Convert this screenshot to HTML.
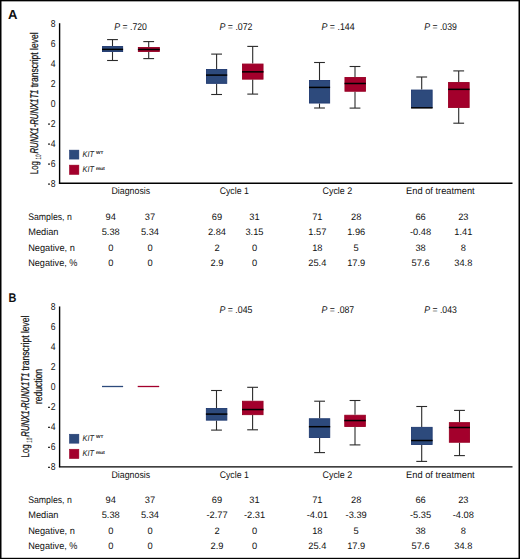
<!DOCTYPE html>
<html><head><meta charset="utf-8"><style>
html,body{margin:0;padding:0;background:#fff;}
svg{display:block;}
text{text-rendering:geometricPrecision;font-family:"Liberation Sans", sans-serif;fill:#111;}
.yl{stroke:#111;stroke-width:0.2px;}
.yi{stroke-width:0.3px;}
</style></head><body>
<svg width="520" height="559" viewBox="0 0 520 559">
<rect x="0" y="0" width="520" height="559" fill="#fff"/>
<text x="7.9" y="18.75" font-size="13.1" text-anchor="start" font-weight="bold" >A</text>
<line x1="59.6" y1="23.2" x2="59.6" y2="183.9" stroke="#000" stroke-width="1.4"/>
<line x1="58.9" y1="183.3" x2="512.5" y2="183.3" stroke="#000" stroke-width="1.4"/>
<text x="53.15" y="26.75" font-size="10" text-rendering="geometricPrecision" text-anchor="middle" transform="translate(53.15,0) scale(0.86,1) translate(-53.15,0)">8</text>
<text x="53.15" y="46.75" font-size="10" text-rendering="geometricPrecision" text-anchor="middle" transform="translate(53.15,0) scale(0.86,1) translate(-53.15,0)">6</text>
<text x="53.15" y="66.75" font-size="10" text-rendering="geometricPrecision" text-anchor="middle" transform="translate(53.15,0) scale(0.86,1) translate(-53.15,0)">4</text>
<text x="53.15" y="86.75" font-size="10" text-rendering="geometricPrecision" text-anchor="middle" transform="translate(53.15,0) scale(0.86,1) translate(-53.15,0)">2</text>
<text x="53.15" y="106.75" font-size="10" text-rendering="geometricPrecision" text-anchor="middle" transform="translate(53.15,0) scale(0.86,1) translate(-53.15,0)">0</text>
<text x="53.15" y="126.75" font-size="10" text-rendering="geometricPrecision" text-anchor="middle" transform="translate(53.15,0) scale(0.86,1) translate(-53.15,0)">2</text>
<rect x="48.0" y="123.45" width="2.0" height="1.3" fill="#333"/>
<text x="53.15" y="146.75" font-size="10" text-rendering="geometricPrecision" text-anchor="middle" transform="translate(53.15,0) scale(0.86,1) translate(-53.15,0)">4</text>
<rect x="48.0" y="143.45" width="2.0" height="1.3" fill="#333"/>
<text x="53.15" y="166.75" font-size="10" text-rendering="geometricPrecision" text-anchor="middle" transform="translate(53.15,0) scale(0.86,1) translate(-53.15,0)">6</text>
<rect x="48.0" y="163.45" width="2.0" height="1.3" fill="#333"/>
<text x="53.15" y="186.75" font-size="10" text-rendering="geometricPrecision" text-anchor="middle" transform="translate(53.15,0) scale(0.86,1) translate(-53.15,0)">8</text>
<rect x="48.0" y="183.45" width="2.0" height="1.3" fill="#333"/>
<text x="114.3" y="29.9" font-size="9.8" textLength="32.60000000000001" lengthAdjust="spacingAndGlyphs"><tspan font-style="italic">P</tspan> = .720</text>
<text x="219.5" y="29.9" font-size="9.8" textLength="33.0" lengthAdjust="spacingAndGlyphs"><tspan font-style="italic">P</tspan> = .072</text>
<text x="321.5" y="29.9" font-size="9.8" textLength="33.10000000000002" lengthAdjust="spacingAndGlyphs"><tspan font-style="italic">P</tspan> = .144</text>
<text x="424.2" y="29.9" font-size="9.8" textLength="32.60000000000002" lengthAdjust="spacingAndGlyphs"><tspan font-style="italic">P</tspan> = .039</text>
<line x1="112.5" y1="39.6" x2="112.5" y2="46.1" stroke="#2a2a2a" stroke-width="1.1"/>
<line x1="107.1" y1="39.6" x2="117.9" y2="39.6" stroke="#2a2a2a" stroke-width="1.1"/>
<line x1="112.5" y1="52.0" x2="112.5" y2="60.5" stroke="#2a2a2a" stroke-width="1.1"/>
<line x1="107.1" y1="60.5" x2="117.9" y2="60.5" stroke="#2a2a2a" stroke-width="1.1"/>
<rect x="102.45" y="46.55" width="20.20" height="5.00" fill="#2d4a7c" stroke="#1f3970" stroke-width="0.9"/>
<line x1="102.0" y1="49.4" x2="123.1" y2="49.4" stroke="#000" stroke-width="1.5"/>
<line x1="148.7" y1="41.6" x2="148.7" y2="47.0" stroke="#2a2a2a" stroke-width="1.1"/>
<line x1="143.29999999999998" y1="41.6" x2="154.1" y2="41.6" stroke="#2a2a2a" stroke-width="1.1"/>
<line x1="148.7" y1="51.9" x2="148.7" y2="58.6" stroke="#2a2a2a" stroke-width="1.1"/>
<line x1="143.29999999999998" y1="58.6" x2="154.1" y2="58.6" stroke="#2a2a2a" stroke-width="1.1"/>
<rect x="138.35" y="47.45" width="21.00" height="4.00" fill="#a3002c" stroke="#980024" stroke-width="0.9"/>
<line x1="137.9" y1="49.5" x2="159.8" y2="49.5" stroke="#000" stroke-width="1.5"/>
<line x1="216.6" y1="54.1" x2="216.6" y2="69.0" stroke="#2a2a2a" stroke-width="1.1"/>
<line x1="211.2" y1="54.1" x2="222.0" y2="54.1" stroke="#2a2a2a" stroke-width="1.1"/>
<line x1="216.6" y1="83.8" x2="216.6" y2="94.5" stroke="#2a2a2a" stroke-width="1.1"/>
<line x1="211.2" y1="94.5" x2="222.0" y2="94.5" stroke="#2a2a2a" stroke-width="1.1"/>
<rect x="206.45" y="69.45" width="20.30" height="13.90" fill="#2d4a7c" stroke="#1f3970" stroke-width="0.9"/>
<line x1="206.0" y1="75.1" x2="227.2" y2="75.1" stroke="#000" stroke-width="1.5"/>
<line x1="252.7" y1="46.4" x2="252.7" y2="63.6" stroke="#2a2a2a" stroke-width="1.1"/>
<line x1="247.29999999999998" y1="46.4" x2="258.09999999999997" y2="46.4" stroke="#2a2a2a" stroke-width="1.1"/>
<line x1="252.7" y1="79.6" x2="252.7" y2="94.1" stroke="#2a2a2a" stroke-width="1.1"/>
<line x1="247.29999999999998" y1="94.1" x2="258.09999999999997" y2="94.1" stroke="#2a2a2a" stroke-width="1.1"/>
<rect x="242.45" y="64.05" width="20.60" height="15.10" fill="#a3002c" stroke="#980024" stroke-width="0.9"/>
<line x1="242.0" y1="71.85" x2="263.5" y2="71.85" stroke="#000" stroke-width="1.5"/>
<line x1="319.5" y1="62.5" x2="319.5" y2="80.0" stroke="#2a2a2a" stroke-width="1.1"/>
<line x1="314.1" y1="62.5" x2="324.9" y2="62.5" stroke="#2a2a2a" stroke-width="1.1"/>
<line x1="319.5" y1="103.5" x2="319.5" y2="108.0" stroke="#2a2a2a" stroke-width="1.1"/>
<line x1="314.1" y1="108.0" x2="324.9" y2="108.0" stroke="#2a2a2a" stroke-width="1.1"/>
<rect x="309.45" y="80.45" width="20.20" height="22.60" fill="#2d4a7c" stroke="#1f3970" stroke-width="0.9"/>
<line x1="309.0" y1="87.4" x2="330.1" y2="87.4" stroke="#000" stroke-width="1.5"/>
<line x1="355.0" y1="66.5" x2="355.0" y2="77.0" stroke="#2a2a2a" stroke-width="1.1"/>
<line x1="349.6" y1="66.5" x2="360.4" y2="66.5" stroke="#2a2a2a" stroke-width="1.1"/>
<line x1="355.0" y1="91.7" x2="355.0" y2="108.1" stroke="#2a2a2a" stroke-width="1.1"/>
<line x1="349.6" y1="108.1" x2="360.4" y2="108.1" stroke="#2a2a2a" stroke-width="1.1"/>
<rect x="344.95" y="77.45" width="20.50" height="13.80" fill="#a3002c" stroke="#980024" stroke-width="0.9"/>
<line x1="344.5" y1="83.5" x2="365.9" y2="83.5" stroke="#000" stroke-width="1.5"/>
<line x1="421.7" y1="77.0" x2="421.7" y2="89.6" stroke="#2a2a2a" stroke-width="1.1"/>
<line x1="416.3" y1="77.0" x2="427.09999999999997" y2="77.0" stroke="#2a2a2a" stroke-width="1.1"/>
<rect x="411.55" y="90.05" width="20.60" height="17.50" fill="#2d4a7c" stroke="#1f3970" stroke-width="0.9"/>
<line x1="411.1" y1="107.85" x2="432.6" y2="107.85" stroke="#000" stroke-width="1.5"/>
<line x1="458.7" y1="70.9" x2="458.7" y2="82.1" stroke="#2a2a2a" stroke-width="1.1"/>
<line x1="453.3" y1="70.9" x2="464.09999999999997" y2="70.9" stroke="#2a2a2a" stroke-width="1.1"/>
<line x1="458.7" y1="107.9" x2="458.7" y2="123.2" stroke="#2a2a2a" stroke-width="1.1"/>
<line x1="453.3" y1="123.2" x2="464.09999999999997" y2="123.2" stroke="#2a2a2a" stroke-width="1.1"/>
<rect x="448.55" y="82.55" width="20.60" height="24.90" fill="#a3002c" stroke="#980024" stroke-width="0.9"/>
<line x1="448.1" y1="89.35" x2="469.6" y2="89.35" stroke="#000" stroke-width="1.5"/>
<rect x="69.4" y="150.1" width="9.5" height="9" fill="#2d4a7c" stroke="#1f3970" stroke-width="0.5"/>
<rect x="69.4" y="165.1" width="9.5" height="9.4" fill="#a3002c" stroke="#980024" stroke-width="0.5"/>
<text x="82.6" y="157.3" font-size="8.4" font-style="italic" textLength="11.4" lengthAdjust="spacingAndGlyphs">KIT</text>
<text x="96.1" y="154.3" font-size="4.4" textLength="7.2" lengthAdjust="spacingAndGlyphs" stroke="#111" stroke-width="0.15">WT</text>
<text x="82.6" y="172.3" font-size="8.4" font-style="italic" textLength="11.4" lengthAdjust="spacingAndGlyphs">KIT</text>
<text x="96.1" y="169.7" font-size="4.4" textLength="8.5" lengthAdjust="spacingAndGlyphs" stroke="#111" stroke-width="0.15">mut</text>
<text x="111.5" y="194.2" font-size="9.6" text-anchor="start" font-weight="normal" textLength="38.7" lengthAdjust="spacingAndGlyphs" >Diagnosis</text>
<text x="219.7" y="194.2" font-size="9.6" text-anchor="start" font-weight="normal" textLength="29.1" lengthAdjust="spacingAndGlyphs" >Cycle 1</text>
<text x="322.5" y="194.2" font-size="9.6" text-anchor="start" font-weight="normal" textLength="29.7" lengthAdjust="spacingAndGlyphs" >Cycle 2</text>
<text x="406.1" y="194.2" font-size="9.6" text-anchor="start" font-weight="normal" textLength="68.6" lengthAdjust="spacingAndGlyphs" >End of treatment</text>
<text x="28.2" y="219.9" font-size="9.6" text-anchor="start" font-weight="normal" textLength="43.6" lengthAdjust="spacingAndGlyphs" >Samples, n</text>
<text x="28.2" y="235.2" font-size="9.6" text-anchor="start" font-weight="normal" textLength="30.3" lengthAdjust="spacingAndGlyphs" >Median</text>
<text x="28.2" y="250.5" font-size="9.6" text-anchor="start" font-weight="normal" textLength="46.7" lengthAdjust="spacingAndGlyphs" >Negative, n</text>
<text x="28.2" y="265.8" font-size="9.6" text-anchor="start" font-weight="normal" textLength="49.300000000000004" lengthAdjust="spacingAndGlyphs" >Negative, %</text>
<text x="110.75" y="219.9" font-size="9.3" text-anchor="middle" font-weight="normal" >94</text>
<text x="150.0" y="219.9" font-size="9.3" text-anchor="middle" font-weight="normal" >37</text>
<text x="217.0" y="219.9" font-size="9.3" text-anchor="middle" font-weight="normal" >69</text>
<text x="254.5" y="219.9" font-size="9.3" text-anchor="middle" font-weight="normal" >31</text>
<text x="317.3" y="219.9" font-size="9.3" text-anchor="middle" font-weight="normal" >71</text>
<text x="356.2" y="219.9" font-size="9.3" text-anchor="middle" font-weight="normal" >28</text>
<text x="420.6" y="219.9" font-size="9.3" text-anchor="middle" font-weight="normal" >66</text>
<text x="463.3" y="219.9" font-size="9.3" text-anchor="middle" font-weight="normal" >23</text>
<text x="110.75" y="235.2" font-size="9.3" text-anchor="middle" font-weight="normal" >5.38</text>
<text x="150.0" y="235.2" font-size="9.3" text-anchor="middle" font-weight="normal" >5.34</text>
<text x="217.0" y="235.2" font-size="9.3" text-anchor="middle" font-weight="normal" >2.84</text>
<text x="254.5" y="235.2" font-size="9.3" text-anchor="middle" font-weight="normal" >3.15</text>
<text x="317.3" y="235.2" font-size="9.3" text-anchor="middle" font-weight="normal" >1.57</text>
<text x="356.2" y="235.2" font-size="9.3" text-anchor="middle" font-weight="normal" >1.96</text>
<text x="420.6" y="235.2" font-size="9.3" text-anchor="middle" font-weight="normal" >-0.48</text>
<text x="463.3" y="235.2" font-size="9.3" text-anchor="middle" font-weight="normal" >1.41</text>
<text x="110.75" y="250.5" font-size="9.3" text-anchor="middle" font-weight="normal" >0</text>
<text x="150.0" y="250.5" font-size="9.3" text-anchor="middle" font-weight="normal" >0</text>
<text x="217.0" y="250.5" font-size="9.3" text-anchor="middle" font-weight="normal" >2</text>
<text x="254.5" y="250.5" font-size="9.3" text-anchor="middle" font-weight="normal" >0</text>
<text x="317.3" y="250.5" font-size="9.3" text-anchor="middle" font-weight="normal" >18</text>
<text x="356.2" y="250.5" font-size="9.3" text-anchor="middle" font-weight="normal" >5</text>
<text x="420.6" y="250.5" font-size="9.3" text-anchor="middle" font-weight="normal" >38</text>
<text x="463.3" y="250.5" font-size="9.3" text-anchor="middle" font-weight="normal" >8</text>
<text x="110.75" y="265.8" font-size="9.3" text-anchor="middle" font-weight="normal" >0</text>
<text x="150.0" y="265.8" font-size="9.3" text-anchor="middle" font-weight="normal" >0</text>
<text x="217.0" y="265.8" font-size="9.3" text-anchor="middle" font-weight="normal" >2.9</text>
<text x="254.5" y="265.8" font-size="9.3" text-anchor="middle" font-weight="normal" >0</text>
<text x="317.3" y="265.8" font-size="9.3" text-anchor="middle" font-weight="normal" >25.4</text>
<text x="356.2" y="265.8" font-size="9.3" text-anchor="middle" font-weight="normal" >17.9</text>
<text x="420.6" y="265.8" font-size="9.3" text-anchor="middle" font-weight="normal" >57.6</text>
<text x="463.3" y="265.8" font-size="9.3" text-anchor="middle" font-weight="normal" >34.8</text>
<text class="yl" transform="translate(37.9,0) rotate(-90)" x="-174.20" y="0" font-size="11.2" textLength="13.0" lengthAdjust="spacingAndGlyphs">Log</text>
<text class="ys" transform="translate(37.9,0) rotate(-90)" x="-159.60" y="3.0" font-size="7.8" textLength="5.2" lengthAdjust="spacingAndGlyphs">10</text>
<text class="yl yi" transform="translate(37.9,0) rotate(-90)" x="-153.50" y="0" font-size="11.2" font-style="italic" textLength="63.9" lengthAdjust="spacingAndGlyphs">RUNX1-RUNX1T1</text>
<text class="yl" transform="translate(37.9,0) rotate(-90)" x="-87.30" y="0" font-size="11.2" textLength="54.9" lengthAdjust="spacingAndGlyphs">transcript level</text>
<text x="8.4" y="301.65" font-size="12.6" text-anchor="start" font-weight="bold" textLength="7.9" lengthAdjust="spacingAndGlyphs" >B</text>
<line x1="59.6" y1="306.45" x2="59.6" y2="467.15" stroke="#000" stroke-width="1.4"/>
<line x1="58.9" y1="466.85" x2="512.5" y2="466.85" stroke="#000" stroke-width="1.4"/>
<text x="53.15" y="310.00" font-size="10" text-rendering="geometricPrecision" text-anchor="middle" transform="translate(53.15,0) scale(0.86,1) translate(-53.15,0)">8</text>
<text x="53.15" y="330.00" font-size="10" text-rendering="geometricPrecision" text-anchor="middle" transform="translate(53.15,0) scale(0.86,1) translate(-53.15,0)">6</text>
<text x="53.15" y="350.00" font-size="10" text-rendering="geometricPrecision" text-anchor="middle" transform="translate(53.15,0) scale(0.86,1) translate(-53.15,0)">4</text>
<text x="53.15" y="370.00" font-size="10" text-rendering="geometricPrecision" text-anchor="middle" transform="translate(53.15,0) scale(0.86,1) translate(-53.15,0)">2</text>
<text x="53.15" y="390.00" font-size="10" text-rendering="geometricPrecision" text-anchor="middle" transform="translate(53.15,0) scale(0.86,1) translate(-53.15,0)">0</text>
<text x="53.15" y="410.00" font-size="10" text-rendering="geometricPrecision" text-anchor="middle" transform="translate(53.15,0) scale(0.86,1) translate(-53.15,0)">2</text>
<rect x="48.0" y="406.70" width="2.0" height="1.3" fill="#333"/>
<text x="53.15" y="430.00" font-size="10" text-rendering="geometricPrecision" text-anchor="middle" transform="translate(53.15,0) scale(0.86,1) translate(-53.15,0)">4</text>
<rect x="48.0" y="426.70" width="2.0" height="1.3" fill="#333"/>
<text x="53.15" y="450.00" font-size="10" text-rendering="geometricPrecision" text-anchor="middle" transform="translate(53.15,0) scale(0.86,1) translate(-53.15,0)">6</text>
<rect x="48.0" y="446.70" width="2.0" height="1.3" fill="#333"/>
<text x="53.15" y="470.00" font-size="10" text-rendering="geometricPrecision" text-anchor="middle" transform="translate(53.15,0) scale(0.86,1) translate(-53.15,0)">8</text>
<rect x="48.0" y="466.70" width="2.0" height="1.3" fill="#333"/>
<text x="219.5" y="313.15" font-size="9.8" textLength="32.900000000000006" lengthAdjust="spacingAndGlyphs"><tspan font-style="italic">P</tspan> = .045</text>
<text x="321.5" y="313.15" font-size="9.8" textLength="32.69999999999999" lengthAdjust="spacingAndGlyphs"><tspan font-style="italic">P</tspan> = .087</text>
<text x="424.2" y="313.15" font-size="9.8" textLength="32.60000000000002" lengthAdjust="spacingAndGlyphs"><tspan font-style="italic">P</tspan> = .043</text>
<line x1="216.5" y1="390.5" x2="216.5" y2="408.1" stroke="#2a2a2a" stroke-width="1.1"/>
<line x1="211.1" y1="390.5" x2="221.9" y2="390.5" stroke="#2a2a2a" stroke-width="1.1"/>
<line x1="216.5" y1="420.6" x2="216.5" y2="430.1" stroke="#2a2a2a" stroke-width="1.1"/>
<line x1="211.1" y1="430.1" x2="221.9" y2="430.1" stroke="#2a2a2a" stroke-width="1.1"/>
<rect x="206.35" y="408.55" width="20.50" height="11.60" fill="#2d4a7c" stroke="#1f3970" stroke-width="0.9"/>
<line x1="205.9" y1="414.1" x2="227.3" y2="414.1" stroke="#000" stroke-width="1.5"/>
<line x1="252.6" y1="387.3" x2="252.6" y2="400.8" stroke="#2a2a2a" stroke-width="1.1"/>
<line x1="247.2" y1="387.3" x2="258.0" y2="387.3" stroke="#2a2a2a" stroke-width="1.1"/>
<line x1="252.6" y1="415.1" x2="252.6" y2="429.8" stroke="#2a2a2a" stroke-width="1.1"/>
<line x1="247.2" y1="429.8" x2="258.0" y2="429.8" stroke="#2a2a2a" stroke-width="1.1"/>
<rect x="242.45" y="401.25" width="20.60" height="13.40" fill="#a3002c" stroke="#980024" stroke-width="0.9"/>
<line x1="242.0" y1="409.55" x2="263.5" y2="409.55" stroke="#000" stroke-width="1.5"/>
<line x1="319.6" y1="401.2" x2="319.6" y2="418.3" stroke="#2a2a2a" stroke-width="1.1"/>
<line x1="314.20000000000005" y1="401.2" x2="325.0" y2="401.2" stroke="#2a2a2a" stroke-width="1.1"/>
<line x1="319.6" y1="437.9" x2="319.6" y2="452.6" stroke="#2a2a2a" stroke-width="1.1"/>
<line x1="314.20000000000005" y1="452.6" x2="325.0" y2="452.6" stroke="#2a2a2a" stroke-width="1.1"/>
<rect x="309.35" y="418.75" width="20.40" height="18.70" fill="#2d4a7c" stroke="#1f3970" stroke-width="0.9"/>
<line x1="308.9" y1="426.7" x2="330.2" y2="426.7" stroke="#000" stroke-width="1.5"/>
<line x1="355.0" y1="400.5" x2="355.0" y2="414.8" stroke="#2a2a2a" stroke-width="1.1"/>
<line x1="349.6" y1="400.5" x2="360.4" y2="400.5" stroke="#2a2a2a" stroke-width="1.1"/>
<line x1="355.0" y1="426.9" x2="355.0" y2="444.9" stroke="#2a2a2a" stroke-width="1.1"/>
<line x1="349.6" y1="444.9" x2="360.4" y2="444.9" stroke="#2a2a2a" stroke-width="1.1"/>
<rect x="344.75" y="415.25" width="20.60" height="11.20" fill="#a3002c" stroke="#980024" stroke-width="0.9"/>
<line x1="344.3" y1="420.55" x2="365.8" y2="420.55" stroke="#000" stroke-width="1.5"/>
<line x1="421.7" y1="406.5" x2="421.7" y2="426.9" stroke="#2a2a2a" stroke-width="1.1"/>
<line x1="416.3" y1="406.5" x2="427.09999999999997" y2="406.5" stroke="#2a2a2a" stroke-width="1.1"/>
<line x1="421.7" y1="444.9" x2="421.7" y2="461.4" stroke="#2a2a2a" stroke-width="1.1"/>
<line x1="416.3" y1="461.4" x2="427.09999999999997" y2="461.4" stroke="#2a2a2a" stroke-width="1.1"/>
<rect x="411.55" y="427.35" width="20.60" height="17.10" fill="#2d4a7c" stroke="#1f3970" stroke-width="0.9"/>
<line x1="411.1" y1="440.5" x2="432.6" y2="440.5" stroke="#000" stroke-width="1.5"/>
<line x1="459.5" y1="410.4" x2="459.5" y2="422.2" stroke="#2a2a2a" stroke-width="1.1"/>
<line x1="454.1" y1="410.4" x2="464.9" y2="410.4" stroke="#2a2a2a" stroke-width="1.1"/>
<line x1="459.5" y1="442.7" x2="459.5" y2="455.6" stroke="#2a2a2a" stroke-width="1.1"/>
<line x1="454.1" y1="455.6" x2="464.9" y2="455.6" stroke="#2a2a2a" stroke-width="1.1"/>
<rect x="449.35" y="422.65" width="20.20" height="19.60" fill="#a3002c" stroke="#980024" stroke-width="0.9"/>
<line x1="448.9" y1="427.5" x2="470.0" y2="427.5" stroke="#000" stroke-width="1.5"/>
<line x1="102" y1="386.5" x2="123.1" y2="386.5" stroke="#2d4a7c" stroke-width="1.3"/>
<line x1="137.7" y1="386.5" x2="159.2" y2="386.5" stroke="#a3002c" stroke-width="1.3"/>
<rect x="69.4" y="434.20000000000005" width="9.5" height="9" fill="#2d4a7c" stroke="#1f3970" stroke-width="0.5"/>
<rect x="69.4" y="449.20000000000005" width="9.5" height="9.4" fill="#a3002c" stroke="#980024" stroke-width="0.5"/>
<text x="82.6" y="441.40000000000003" font-size="8.4" font-style="italic" textLength="11.4" lengthAdjust="spacingAndGlyphs">KIT</text>
<text x="96.1" y="438.40000000000003" font-size="4.4" textLength="7.2" lengthAdjust="spacingAndGlyphs" stroke="#111" stroke-width="0.15">WT</text>
<text x="82.6" y="456.40000000000003" font-size="8.4" font-style="italic" textLength="11.4" lengthAdjust="spacingAndGlyphs">KIT</text>
<text x="96.1" y="453.8" font-size="4.4" textLength="8.5" lengthAdjust="spacingAndGlyphs" stroke="#111" stroke-width="0.15">mut</text>
<text x="111.5" y="478.25" font-size="9.6" text-anchor="start" font-weight="normal" textLength="38.7" lengthAdjust="spacingAndGlyphs" >Diagnosis</text>
<text x="219.7" y="478.25" font-size="9.6" text-anchor="start" font-weight="normal" textLength="29.1" lengthAdjust="spacingAndGlyphs" >Cycle 1</text>
<text x="322.5" y="478.25" font-size="9.6" text-anchor="start" font-weight="normal" textLength="29.7" lengthAdjust="spacingAndGlyphs" >Cycle 2</text>
<text x="406.1" y="478.25" font-size="9.6" text-anchor="start" font-weight="normal" textLength="68.6" lengthAdjust="spacingAndGlyphs" >End of treatment</text>
<text x="28.2" y="503.15" font-size="9.6" text-anchor="start" font-weight="normal" textLength="43.6" lengthAdjust="spacingAndGlyphs" >Samples, n</text>
<text x="28.2" y="518.45" font-size="9.6" text-anchor="start" font-weight="normal" textLength="30.3" lengthAdjust="spacingAndGlyphs" >Median</text>
<text x="28.2" y="533.75" font-size="9.6" text-anchor="start" font-weight="normal" textLength="46.7" lengthAdjust="spacingAndGlyphs" >Negative, n</text>
<text x="28.2" y="549.05" font-size="9.6" text-anchor="start" font-weight="normal" textLength="49.300000000000004" lengthAdjust="spacingAndGlyphs" >Negative, %</text>
<text x="110.75" y="503.15" font-size="9.3" text-anchor="middle" font-weight="normal" >94</text>
<text x="150.0" y="503.15" font-size="9.3" text-anchor="middle" font-weight="normal" >37</text>
<text x="217.0" y="503.15" font-size="9.3" text-anchor="middle" font-weight="normal" >69</text>
<text x="254.5" y="503.15" font-size="9.3" text-anchor="middle" font-weight="normal" >31</text>
<text x="317.3" y="503.15" font-size="9.3" text-anchor="middle" font-weight="normal" >71</text>
<text x="356.2" y="503.15" font-size="9.3" text-anchor="middle" font-weight="normal" >28</text>
<text x="420.6" y="503.15" font-size="9.3" text-anchor="middle" font-weight="normal" >66</text>
<text x="463.3" y="503.15" font-size="9.3" text-anchor="middle" font-weight="normal" >23</text>
<text x="110.75" y="518.45" font-size="9.3" text-anchor="middle" font-weight="normal" >5.38</text>
<text x="150.0" y="518.45" font-size="9.3" text-anchor="middle" font-weight="normal" >5.34</text>
<text x="217.0" y="518.45" font-size="9.3" text-anchor="middle" font-weight="normal" >-2.77</text>
<text x="254.5" y="518.45" font-size="9.3" text-anchor="middle" font-weight="normal" >-2.31</text>
<text x="317.3" y="518.45" font-size="9.3" text-anchor="middle" font-weight="normal" >-4.01</text>
<text x="356.2" y="518.45" font-size="9.3" text-anchor="middle" font-weight="normal" >-3.39</text>
<text x="420.6" y="518.45" font-size="9.3" text-anchor="middle" font-weight="normal" >-5.35</text>
<text x="463.3" y="518.45" font-size="9.3" text-anchor="middle" font-weight="normal" >-4.08</text>
<text x="110.75" y="533.75" font-size="9.3" text-anchor="middle" font-weight="normal" >0</text>
<text x="150.0" y="533.75" font-size="9.3" text-anchor="middle" font-weight="normal" >0</text>
<text x="217.0" y="533.75" font-size="9.3" text-anchor="middle" font-weight="normal" >2</text>
<text x="254.5" y="533.75" font-size="9.3" text-anchor="middle" font-weight="normal" >0</text>
<text x="317.3" y="533.75" font-size="9.3" text-anchor="middle" font-weight="normal" >18</text>
<text x="356.2" y="533.75" font-size="9.3" text-anchor="middle" font-weight="normal" >5</text>
<text x="420.6" y="533.75" font-size="9.3" text-anchor="middle" font-weight="normal" >38</text>
<text x="463.3" y="533.75" font-size="9.3" text-anchor="middle" font-weight="normal" >8</text>
<text x="110.75" y="549.05" font-size="9.3" text-anchor="middle" font-weight="normal" >0</text>
<text x="150.0" y="549.05" font-size="9.3" text-anchor="middle" font-weight="normal" >0</text>
<text x="217.0" y="549.05" font-size="9.3" text-anchor="middle" font-weight="normal" >2.9</text>
<text x="254.5" y="549.05" font-size="9.3" text-anchor="middle" font-weight="normal" >0</text>
<text x="317.3" y="549.05" font-size="9.3" text-anchor="middle" font-weight="normal" >25.4</text>
<text x="356.2" y="549.05" font-size="9.3" text-anchor="middle" font-weight="normal" >17.9</text>
<text x="420.6" y="549.05" font-size="9.3" text-anchor="middle" font-weight="normal" >57.6</text>
<text x="463.3" y="549.05" font-size="9.3" text-anchor="middle" font-weight="normal" >34.8</text>
<text class="yl" transform="translate(29.0,0) rotate(-90)" x="-457.40" y="0" font-size="11.2" textLength="13.0" lengthAdjust="spacingAndGlyphs">Log</text>
<text class="ys" transform="translate(29.0,0) rotate(-90)" x="-442.80" y="3.0" font-size="7.8" textLength="5.2" lengthAdjust="spacingAndGlyphs">10</text>
<text class="yl yi" transform="translate(29.0,0) rotate(-90)" x="-436.70" y="0" font-size="11.2" font-style="italic" textLength="63.9" lengthAdjust="spacingAndGlyphs">RUNX1-RUNX1T1</text>
<text class="yl" transform="translate(29.0,0) rotate(-90)" x="-370.50" y="0" font-size="11.2" textLength="54.9" lengthAdjust="spacingAndGlyphs">transcript level</text>
<text class="yl" transform="translate(41.6,386.5) rotate(-90)" font-size="11.2" text-anchor="middle" textLength="35.0" lengthAdjust="spacingAndGlyphs">reduction</text>
<rect x="0" y="0" width="1.5" height="559" fill="#000"/><rect x="518.5" y="0" width="1.5" height="559" fill="#000"/><rect x="0" y="0" width="520" height="1.35" fill="#000"/><rect x="0" y="557.8" width="520" height="1.2" fill="#000"/>
</svg>
</body></html>
